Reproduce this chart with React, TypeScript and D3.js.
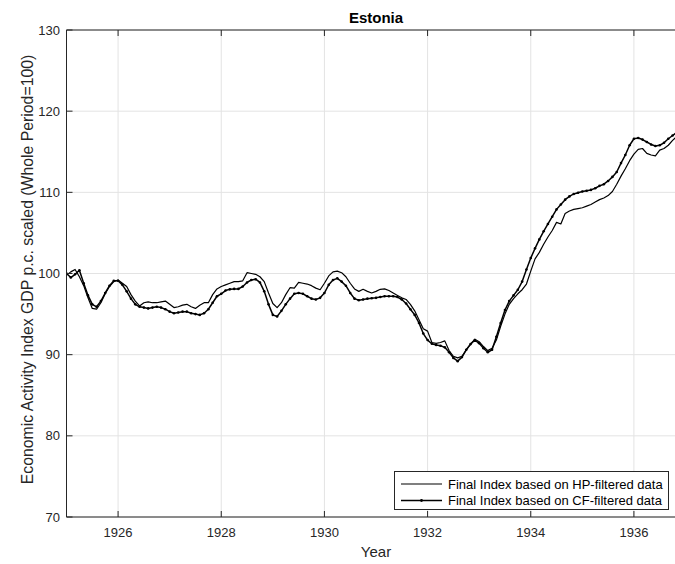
import React from "react";
import * as d3 from "d3";

const startYear = 1925;
const hpValues = [
  99.8, 100.2, 100.5, 99.6, 98.5, 97.0, 95.7, 95.6, 96.4, 97.5, 98.4, 99.0,
  99.2, 98.8, 98.4, 97.4, 96.6, 96.0, 96.4, 96.5, 96.4, 96.4, 96.5, 96.6,
  96.2, 95.8, 95.9, 96.1, 96.2, 95.9, 95.7, 96.1, 96.4, 96.4, 97.4, 98.1,
  98.4, 98.6, 98.8, 99.0, 99.0, 99.1, 100.1, 100.0, 99.9, 99.6, 99.0, 97.6,
  96.3, 95.8, 96.4, 97.4, 98.25, 98.2, 98.9, 98.8, 98.7, 98.5, 98.2, 98.0,
  98.8, 99.7, 100.2, 100.3, 100.1, 99.6, 98.8, 98.1, 97.8, 98.05, 97.8, 97.6,
  97.8, 98.05, 98.1, 97.9, 97.6, 97.3, 97.0, 96.8, 96.2, 95.4, 94.3, 93.2,
  92.9, 91.5, 91.4, 91.5, 91.7, 90.5, 89.8, 89.6, 89.8, 90.6, 91.3, 91.9,
  91.6, 91.0, 90.5, 90.8, 91.8, 93.5, 95.0, 96.2, 96.9, 97.5, 98.0, 98.7,
  100.3, 101.8, 102.6, 103.6, 104.5, 105.3, 106.3, 106.1, 107.4, 107.7, 107.9, 108.0,
  108.1, 108.3, 108.5, 108.8, 109.1, 109.3, 109.6, 110.1, 111.0, 112.0, 112.9, 113.9,
  114.7, 115.3, 115.4, 114.8, 114.6, 114.5, 115.2, 115.4, 115.8, 116.4, 116.9,
];
const cfValues = [
  100.0, 99.5, 99.9, 100.4, 98.8, 97.3, 96.2, 95.9, 96.6, 97.6, 98.5, 99.1,
  99.1, 98.6, 97.8, 96.9, 96.2, 95.9, 95.8, 95.7, 95.8, 95.9, 95.8, 95.6,
  95.3, 95.1, 95.2, 95.3, 95.3, 95.1, 95.0, 94.9, 95.1, 95.6, 96.4, 97.2,
  97.5, 97.9, 98.05, 98.1, 98.1, 98.4, 98.9, 99.2, 99.3, 98.9, 97.8, 96.2,
  94.9, 94.7, 95.4, 96.2, 96.9, 97.5, 97.6, 97.5, 97.2, 96.9, 96.8, 97.0,
  97.6, 98.6, 99.2, 99.4, 99.0, 98.5, 97.6, 96.9, 96.7, 96.8, 96.9, 96.95,
  97.0, 97.1, 97.2, 97.2, 97.2, 97.1, 96.8, 96.3, 95.6, 94.9, 93.9, 92.6,
  91.8, 91.35, 91.2, 91.1, 90.9, 90.3, 89.6, 89.2, 89.7, 90.6, 91.3, 91.8,
  91.4, 90.8, 90.3, 90.6, 92.2, 93.9, 95.5, 96.6, 97.3, 98.0, 99.0, 100.5,
  101.9, 103.1, 104.2, 105.2, 106.1, 107.0, 107.9, 108.5, 109.1, 109.5, 109.8, 109.95,
  110.1, 110.2, 110.3, 110.5, 110.8, 111.0, 111.4, 111.9, 112.5, 113.6, 114.6, 115.8,
  116.6, 116.7, 116.5, 116.2, 115.9, 115.7, 115.8, 116.1, 116.6, 117.0, 117.4,
];
const xTicks = [1926, 1928, 1930, 1932, 1934, 1936];
const yTicks = [70, 80, 90, 100, 110, 120, 130];
const legendLabels = [
  "Final Index based on HP-filtered data",
  "Final Index based on CF-filtered data",
];

const W = 675;
const H = 564;
const L = 66.5;
const R = 685.5;
const T = 30;
const B = 517;
const FONT = "'Liberation Sans', Arial, Helvetica, sans-serif";

export default function App() {
  const x = d3.scaleLinear().domain([1925, 1937]).range([L, R]);
  const y = d3.scaleLinear().domain([70, 130]).range([B, T]);
  const hp = hpValues.map((v, i) => ({ t: startYear + i / 12, v }));
  const cf = cfValues.map((v, i) => ({ t: startYear + i / 12, v }));
  const line = d3
    .line<{ t: number; v: number }>()
    .x((d) => x(d.t))
    .y((d) => y(d.v));
  const axisColor = "#262626";
  const gridColor = "#e3e3e3";
  const lgX = 394, lgY = 471, lgW = 274, lgH = 38;
  return (
    <svg width={W} height={H} style={{ position: "absolute", left: 0, top: 0, background: "#fff" }} fontFamily={FONT}>
      <defs>
        <clipPath id="plotclip">
          <rect x={L} y={T} width={R - L} height={B - T} />
        </clipPath>
      </defs>
      <rect x={0} y={0} width={W} height={H} fill="#fff" />
      {/* grid */}
      {xTicks.map((t) => (
        <line key={"gx" + t} x1={x(t)} x2={x(t)} y1={T} y2={B} stroke={gridColor} strokeWidth={1} />
      ))}
      {yTicks.map((t) => (
        <line key={"gy" + t} x1={L} x2={R} y1={y(t)} y2={y(t)} stroke={gridColor} strokeWidth={1} />
      ))}
      {/* data */}
      <g clipPath="url(#plotclip)">
        <path d={line(hp) || ""} fill="none" stroke="#000" strokeWidth={1.2} strokeLinejoin="round" />
        <path d={line(cf) || ""} fill="none" stroke="#000" strokeWidth={1.5} strokeLinejoin="round" />
        {cf.map((d, i) => (
          <circle key={"m" + i} cx={x(d.t)} cy={y(d.v)} r={1.3} fill="#000" />
        ))}
      </g>
      {/* axes box */}
      <line x1={L} x2={R} y1={B} y2={B} stroke={axisColor} strokeWidth={1} />
      <line x1={L} x2={R} y1={T} y2={T} stroke={axisColor} strokeWidth={1} />
      <line x1={L} x2={L} y1={T} y2={B} stroke={axisColor} strokeWidth={1} />
      <line x1={R} x2={R} y1={T} y2={B} stroke={axisColor} strokeWidth={1} />
      {xTicks.map((t) => (
        <g key={"xt" + t}>
          <line x1={x(t)} x2={x(t)} y1={B} y2={B - 6} stroke={axisColor} />
          <line x1={x(t)} x2={x(t)} y1={T} y2={T + 6} stroke={axisColor} />
          <text x={x(t)} y={537} textAnchor="middle" fontSize={13} fill={axisColor}>
            {t}
          </text>
        </g>
      ))}
      {yTicks.map((t) => (
        <g key={"yt" + t}>
          <line x1={L} x2={L + 6} y1={y(t)} y2={y(t)} stroke={axisColor} />
          <text x={60} y={y(t) + 4.6} textAnchor="end" fontSize={13} fill={axisColor}>
            {t}
          </text>
        </g>
      ))}
      {/* title & labels */}
      <text x={(L + R) / 2} y={23} textAnchor="middle" fontSize={15} fontWeight="bold" fill="#000">
        Estonia
      </text>
      <text x={(L + R) / 2} y={557} textAnchor="middle" fontSize={15} fill={axisColor}>
        Year
      </text>
      <text
        transform={`translate(33, ${(T + B) / 2 - 4}) rotate(-90)`}
        textAnchor="middle"
        fontSize={15.8}
        fill={axisColor}
      >
        Economic Activity Index GDP p.c. scaled (Whole Period=100)
      </text>
      {/* legend */}
      <rect x={lgX + 0.5} y={lgY + 0.5} width={lgW} height={lgH} fill="#fff" stroke={axisColor} strokeWidth={1} />
      {legendLabels.map((lab, i) => {
        const cy = lgY + 13 + i * 16.5;
        return (
          <g key={"lg" + i}>
            <line x1={lgX + 7} x2={lgX + 48} y1={cy} y2={cy} stroke="#000" strokeWidth={i === 0 ? 1.2 : 1.5} />
            {i === 1 && <circle cx={lgX + 27.5} cy={cy} r={1.4} fill="#000" />}
            <text x={lgX + 54} y={cy + 4.5} fontSize={13} fill="#000">
              {lab}
            </text>
          </g>
        );
      })}
    </svg>
  );
}
